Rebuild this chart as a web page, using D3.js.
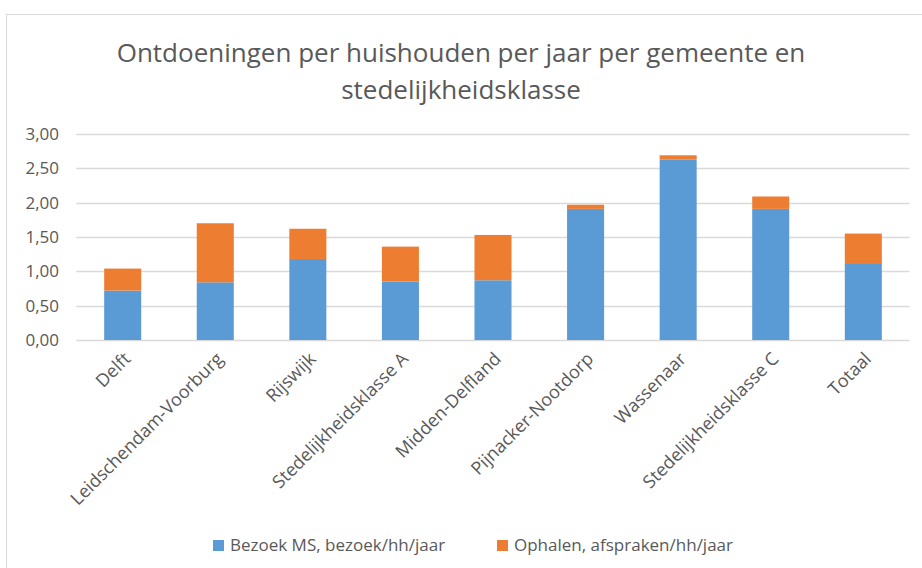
<!DOCTYPE html>
<html>
<head>
<meta charset="utf-8">
<script src="https://cdn.jsdelivr.net/npm/d3@7"></script>
<style>
  body { margin: 0; background: #fff; }
  svg { display: block; font-family: "Open Sans", sans-serif; }
</style>
</head>
<body>
<svg id="chart" width="922" height="568"></svg>
<script>
// Chart data
const categories = ["Delft", "Leidschendam-Voorburg", "Rijswijk", "Stedelijkheidsklasse A",
    "Midden-Delfland", "Pijnacker-Nootdorp", "Wassenaar", "Stedelijkheidsklasse C", "Totaal"];
const bezoek = [0.72, 0.84, 1.18, 0.85, 0.87, 1.91, 2.63, 1.91, 1.12];
const ophalen = [0.32, 0.86, 0.44, 0.51, 0.66, 0.06, 0.06, 0.18, 0.43];
const seriesNames = ["Bezoek MS, bezoek/hh/jaar", "Ophalen, afspraken/hh/jaar"];
const yTicks = [0, 0.5, 1, 1.5, 2, 2.5, 3];
const titleLines = ["Ontdoeningen per huishouden per jaar per gemeente en", "stedelijkheidsklasse"];

const colors = ["#5B9BD5", "#ED7D31"];
const textColor = "#595959";

const svg = d3.select("#chart");

// outer chart border
svg.append("rect")
    .attr("x", 6.5).attr("y", 14.5)
    .attr("width", 930).attr("height", 570)
    .attr("fill", "none")
    .attr("stroke", "#d9d9d9");

// title
svg.append("g").selectAll("text")
    .data(titleLines)
    .join("text")
    .attr("x", 461)
    .attr("y", (d, i) => 62 + i * 37)
    .attr("text-anchor", "middle")
    .attr("font-size", 26)
    .attr("fill", textColor)
    .text(d => d);

const x = d3.scaleBand()
    .domain(categories)
    .range([76.4, 909.6])
    .paddingInner(0.6)
    .paddingOuter(0.3);

const y = d3.scaleLinear()
    .domain([0, 3])
    .range([340, 134]);

// gridlines
svg.append("g").selectAll("line")
    .data(yTicks)
    .join("line")
    .attr("x1", 76.4).attr("x2", 909.6)
    .attr("y1", d => Math.round(y(d)) + 0.5)
    .attr("y2", d => Math.round(y(d)) + 0.5)
    .attr("stroke", "#d9d9d9")
    .attr("stroke-width", 1.5);

// y axis labels
const yAxis = svg.append("g")
    .attr("transform", "translate(62,0)")
    .call(d3.axisLeft(y).tickValues(yTicks).tickSize(0)
        .tickFormat(d => d3.format(".2f")(d).replace(".", ",")));
yAxis.select(".domain").remove();
yAxis.selectAll("text")
    .attr("font-family", "Open Sans, sans-serif")
    .attr("font-size", 17)
    .attr("fill", textColor)
    .attr("x", -3);

// stacked bars
const rows = categories.map((c, i) => ({ cat: c, bezoek: bezoek[i], ophalen: ophalen[i] }));
const stack = d3.stack().keys(["bezoek", "ophalen"])(rows);

svg.append("g").selectAll("g")
    .data(stack)
    .join("g")
    .attr("fill", (d, i) => colors[i])
    .selectAll("rect")
    .data(d => d)
    .join("rect")
    .attr("x", d => x(d.data.cat))
    .attr("width", x.bandwidth())
    .attr("y", d => y(d[1]))
    .attr("height", d => y(d[0]) - y(d[1]));

// x axis labels, rotated
svg.append("g").selectAll("text")
    .data(categories)
    .join("text")
    .attr("transform", d => `translate(${x(d) + x.bandwidth() / 2 + 9},${360}) rotate(-45)`)
    .attr("text-anchor", "end")
    .attr("font-size", 18)
    .attr("fill", textColor)
    .text(d => d);

// legend
const legendX = [213, 497];
const legend = svg.append("g").selectAll("g")
    .data(seriesNames)
    .join("g")
    .attr("transform", (d, i) => `translate(${legendX[i]},540)`);
legend.append("rect")
    .attr("width", 11).attr("height", 11)
    .attr("fill", (d, i) => colors[i]);
legend.append("text")
    .attr("x", 17).attr("y", 11)
    .attr("font-size", 17)
    .attr("fill", textColor)
    .text(d => d);
</script>
</body>
</html>
